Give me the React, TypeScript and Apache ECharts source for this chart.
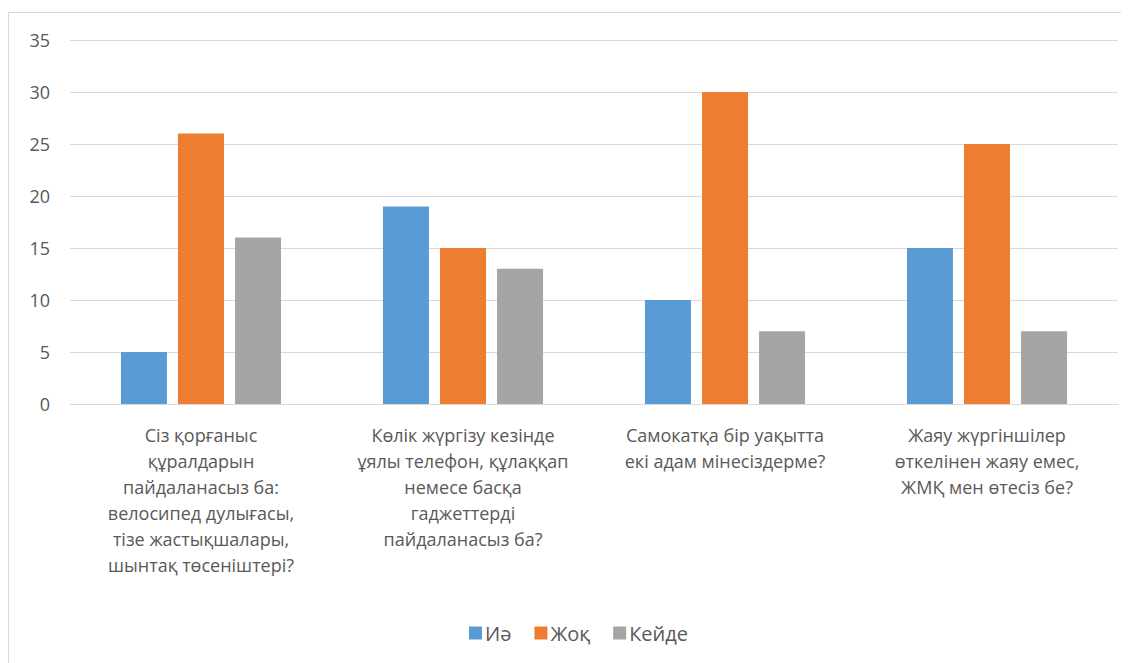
import React, { useEffect, useRef } from "react";
import * as echarts from "echarts";

const categories: string[][] = [
  ["Сіз қорғаныс", "құралдарын", "пайдаланасыз ба:", "велосипед дулығасы,", "тізе жастықшалары,", "шынтақ төсеніштері?"],
  ["Көлік жүргізу кезінде", "ұялы телефон, құлаққап", "немесе басқа", "гаджеттерді", "пайдаланасыз ба?"],
  ["Самокатқа бір уақытта", "екі адам мінесіздерме?"],
  ["Жаяу жүргіншілер", "өткелінен жаяу емес,", "ЖМҚ мен өтесіз бе?"],
];
const seriesNames = ["Иә", "Жоқ", "Кейде"];
const yesValues = [5, 19, 10, 15];
const noValues = [26, 15, 30, 25];
const sometimesValues = [16, 13, 7, 7];
const colors = ["#5B9BD5", "#ED7D31", "#A5A5A5"];

const FONT = "'Open Sans', 'Noto Sans', sans-serif";

export default function App() {
  const ref = useRef<HTMLDivElement>(null);
  useEffect(() => {
    if (!ref.current) return;
    const chart = echarts.init(ref.current, undefined, { renderer: "svg" });
    const data = [yesValues, noValues, sometimesValues];
    chart.setOption({
      animation: false,
      textStyle: { fontFamily: FONT },
      graphic: [
        {
          type: "rect",
          shape: { x: 0.5, y: 4.5, width: 1200, height: 800 },
          style: { fill: "none", stroke: "#d9d9d9", lineWidth: 1 },
          silent: true,
        },
      ],
      grid: { left: 62, right: 11, top: 32, bottom: 259 },
      legend: {
        data: seriesNames,
        left: 456,
        top: 610,
        itemWidth: 13,
        itemHeight: 13,
        itemGap: 23,
        icon: "rect",
        textStyle: { fontFamily: FONT, fontSize: 20, color: "#595959", padding: [0, 0, 0, -2] },
      },
      xAxis: {
        type: "category",
        data: categories.map((c) => c.join("\n")),
        axisLine: { lineStyle: { color: "#d9d9d9" } },
        axisTick: { show: false },
        axisLabel: {
          interval: 0,
          margin: 18,
          fontSize: 18,
          lineHeight: 26,
          color: "#595959",
          fontFamily: FONT,
          verticalAlign: "top",
        },
      },
      yAxis: {
        type: "value",
        min: 0,
        max: 35,
        interval: 5,
        axisLine: { show: false },
        axisTick: { show: false },
        splitLine: { lineStyle: { color: "#d9d9d9" } },
        axisLabel: { margin: 20, fontSize: 18, color: "#595959", fontFamily: FONT },
      },
      series: seriesNames.map((name, i) => ({
        name,
        type: "bar",
        data: data[i],
        barWidth: 46,
        barGap: "24%",
        itemStyle: { color: colors[i] },
      })),
    });
    return () => chart.dispose();
  }, []);
  return <div ref={ref} style={{ width: 1121, height: 655 }} />;
}
